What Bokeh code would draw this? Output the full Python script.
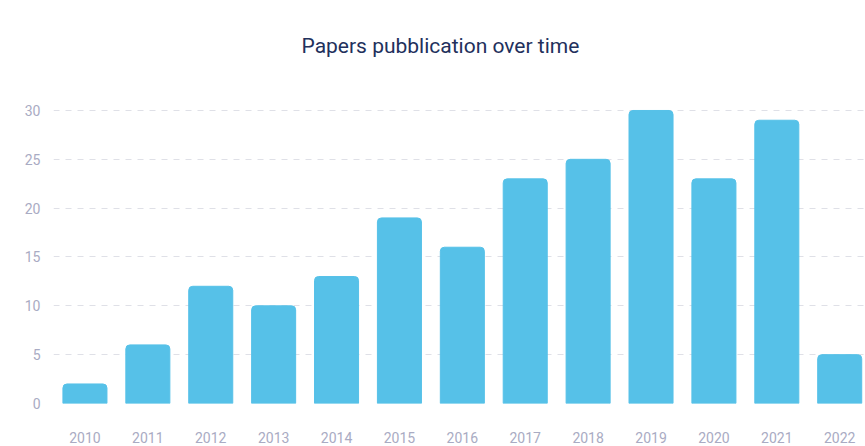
from bokeh.plotting import figure
from bokeh.models import Range1d, FixedTicker
from bokeh.embed import file_html
from bokeh.resources import INLINE

years = [2010, 2011, 2012, 2013, 2014, 2015, 2016, 2017, 2018, 2019, 2020, 2021, 2022]
papers = [2, 6, 12, 10, 13, 19, 16, 23, 25, 30, 23, 29, 5]
y_ticks = [0, 5, 10, 15, 20, 25, 30]

p = figure(width=865, height=446, output_backend="svg", toolbar_location=None,
           x_range=Range1d(2009.5, 2022.41), y_range=Range1d(0, 34.4),
           min_border_left=53, min_border_right=0, min_border_bottom=43, min_border_top=67,
           title="Papers pubblication over time")
p.title.align = "left"
p.title.offset = 248
p.title.text_font = "Roboto"
p.title.text_font_style = "normal"
p.title.text_font_size = "21px"
p.title.text_color = "#22305c"
p.title.standoff = 20

p.vbar(x=years, top=papers, width=0.7, color="#56C1E8", border_radius=[4, 4, 0, 0])

p.outline_line_color = None
p.xgrid.grid_line_color = None
p.ygrid.grid_line_color = "#dfe0e7"
p.ygrid.grid_line_dash = "6 6"
p.ygrid.ticker = FixedTicker(ticks=y_ticks)

p.yaxis.ticker = FixedTicker(ticks=y_ticks)
p.xaxis.ticker = FixedTicker(ticks=years)
for ax in (p.xaxis, p.yaxis):
    ax.axis_line_color = None
    ax.major_tick_line_color = None
    ax.minor_tick_line_color = None
    ax.major_tick_out = 0
    ax.major_tick_in = 0
    ax.major_label_text_font = "Roboto"
    ax.major_label_text_font_size = "14px"
    ax.major_label_text_color = "#a9abc3"
p.xaxis.major_label_standoff = 28
p.yaxis.major_label_standoff = 13

open("out.html", "w").write(file_html(p, INLINE))
